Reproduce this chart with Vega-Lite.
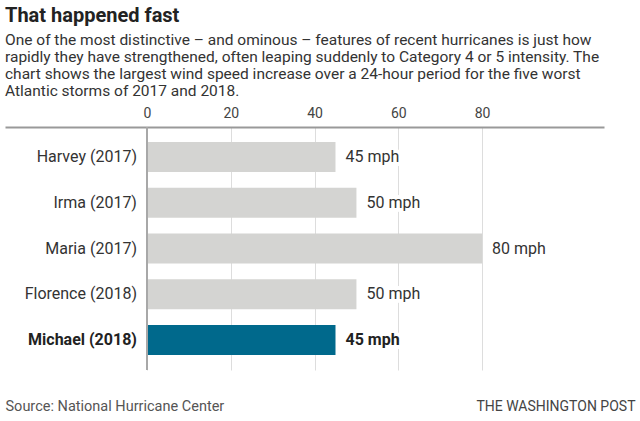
{
  "$schema": "https://vega.github.io/schema/vega-lite/v6.json",
  "width": 599,
  "height": 243,
  "autosize": "none",
  "padding": {"left": 5, "top": 127, "right": 36, "bottom": 51},
  "background": "white",
  "title": {
    "text": "That happened fast",
    "subtitle": [
      "One of the most distinctive – and ominous – features of recent hurricanes is just how",
      "rapidly they have strengthened, often leaping suddenly to Category 4 or 5 intensity. The",
      "chart shows the largest wind speed increase over a 24-hour period for the five worst",
      "Atlantic storms of 2017 and 2018."
    ],
    "anchor": "start",
    "frame": "group",
    "font": "Roboto",
    "fontSize": 20,
    "fontWeight": "bold",
    "color": "#222222",
    "subtitleFont": "Roboto",
    "subtitleFontSize": 15.5,
    "subtitleColor": "#333333",
    "subtitleLineHeight": 17,
    "subtitlePadding": 7,
    "offset": 6.5
  },
  "data": {
    "values": [
      {"storm": "Harvey (2017)", "mph": 45, "label": "45 mph", "highlight": "no"},
      {"storm": "Irma (2017)", "mph": 50, "label": "50 mph", "highlight": "no"},
      {"storm": "Maria (2017)", "mph": 80, "label": "80 mph", "highlight": "no"},
      {"storm": "Florence (2018)", "mph": 50, "label": "50 mph", "highlight": "no"},
      {"storm": "Michael (2018)", "mph": 45, "label": "45 mph", "highlight": "yes"}
    ]
  },
  "layer": [
    {
      "mark": {"type": "bar"},
      "encoding": {
        "y": {"field": "storm", "type": "nominal", "sort": null,
          "scale": {"paddingInner": 0.344, "paddingOuter": 0.328},
          "axis": {"orient": "right", "labels": false, "ticks": false, "domain": false, "grid": false,
            "title": "THE WASHINGTON POST", "titleAngle": 0, "titleAlign": "right", "titleBaseline": "middle",
            "titleX": 31, "titleY": 279, "titleFont": "Roboto", "titleFontSize": 14, "titleFontWeight": "normal", "titleColor": "#444444"}},
        "x": {"field": "mph", "type": "quantitative",
          "scale": {"domain": [-33.9, 109.1], "nice": false},
          "axis": {"orient": "top", "values": [0, 20, 40, 60, 80], "grid": true, "gridColor": "#dddddd", "gridWidth": 1,
            "ticks": false, "domain": true, "domainColor": "#999999", "domainWidth": 2,
            "labelFont": "Roboto", "labelFontSize": 14, "labelColor": "#444444", "labelPadding": 7, "title": null}},
        "color": {"field": "highlight", "type": "nominal", "scale": {"domain": ["no", "yes"], "range": ["#d4d4d2", "#00698c"]}, "legend": null}
      }
    },
    {
      "mark": {"type": "rule", "color": "#a8a8a8", "strokeWidth": 1.5},
      "encoding": {
        "x": {"datum": 0, "type": "quantitative",
          "scale": {"domain": [-33.9, 109.1], "nice": false},
          "axis": {"orient": "bottom", "labels": false, "ticks": false, "domain": false, "grid": false,
            "title": "Source: National Hurricane Center", "titleAnchor": "start", "titleAlign": "left", "titleBaseline": "middle",
            "titleX": 0, "titleY": 36, "titleFont": "Roboto", "titleFontSize": 14.5, "titleFontWeight": "normal", "titleColor": "#555555"}}
      }
    },
    {
      "mark": {"type": "text", "align": "left", "baseline": "middle", "dx": 10, "font": "Roboto", "fontSize": 16, "color": "white", "stroke": "white", "strokeWidth": 8, "strokeJoin": "round"},
      "encoding": {
        "y": {"field": "storm", "type": "nominal", "sort": null},
        "x": {"field": "mph", "type": "quantitative", "axis": null},
        "text": {"field": "label"}
      }
    },
    {
      "transform": [{"filter": "datum.highlight === 'no'"}],
      "mark": {"type": "text", "align": "left", "baseline": "middle", "dx": 10, "font": "Roboto", "fontSize": 16, "color": "#333333"},
      "encoding": {
        "y": {"field": "storm", "type": "nominal", "sort": null},
        "x": {"field": "mph", "type": "quantitative", "axis": null},
        "text": {"field": "label"}
      }
    },
    {
      "transform": [{"filter": "datum.highlight === 'yes'"}],
      "mark": {"type": "text", "align": "left", "baseline": "middle", "dx": 10, "font": "Roboto", "fontSize": 16, "fontWeight": "bold", "color": "#222222"},
      "encoding": {
        "y": {"field": "storm", "type": "nominal", "sort": null},
        "x": {"field": "mph", "type": "quantitative", "axis": null},
        "text": {"field": "label"}
      }
    },
    {
      "transform": [{"filter": "datum.highlight === 'no'"}],
      "mark": {"type": "text", "align": "right", "baseline": "middle", "font": "Roboto", "fontSize": 16, "color": "#333333"},
      "encoding": {
        "y": {"field": "storm", "type": "nominal", "sort": null},
        "x": {"datum": -2.4, "type": "quantitative", "axis": null},
        "text": {"field": "storm"}
      }
    },
    {
      "transform": [{"filter": "datum.highlight === 'yes'"}],
      "mark": {"type": "text", "align": "right", "baseline": "middle", "font": "Roboto", "fontSize": 16, "fontWeight": "bold", "color": "#222222"},
      "encoding": {
        "y": {"field": "storm", "type": "nominal", "sort": null},
        "x": {"datum": -2.4, "type": "quantitative", "axis": null},
        "text": {"field": "storm"}
      }
    }
  ],
  "resolve": {"axis": {"x": "independent"}},
  "config": {"view": {"stroke": null}}
}
